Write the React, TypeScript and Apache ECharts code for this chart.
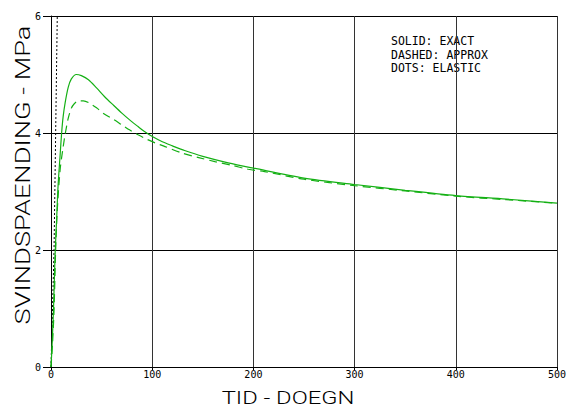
import React, { useEffect, useRef } from "react";
import * as echarts from "echarts";

// Shrinkage stress over time (days) — exact, approximate and elastic solutions
const exactT = [0, 1, 2.5, 4, 5.5, 7, 9, 10.5, 12, 14, 17, 20, 25, 30, 37, 45, 53, 62, 70, 78, 86, 92, 101, 110, 120, 132, 150, 175, 200, 250, 300, 350, 400, 450, 500];
const exactS = [0, 0.35, 1.0, 1.9, 2.5, 3.1, 3.62, 4.0, 4.28, 4.52, 4.78, 4.92, 5.0, 4.98, 4.91, 4.77, 4.62, 4.47, 4.34, 4.22, 4.11, 4.03, 3.93, 3.85, 3.78, 3.7, 3.6, 3.49, 3.4, 3.23, 3.12, 3.02, 2.93, 2.87, 2.8];

const approxT = [0, 1.5, 3, 4.6, 6.2, 9, 12, 14, 17, 20, 23, 27, 32, 37, 45, 53, 62, 70, 78, 86, 95, 103, 111, 129, 146, 162, 178, 195, 211, 250, 300, 350, 400, 450, 500];
const approxS = [0, 0.4, 0.97, 2.0, 2.68, 3.37, 3.76, 3.98, 4.25, 4.42, 4.5, 4.55, 4.55, 4.52, 4.43, 4.32, 4.23, 4.14, 4.05, 3.97, 3.89, 3.83, 3.78, 3.66, 3.58, 3.51, 3.45, 3.38, 3.34, 3.21, 3.1, 3.01, 2.92, 2.86, 2.8];

const elasticT = [0, 1.5, 3, 4.6, 6.2, 6.4];
const elasticS = [0, 1.0, 2.0, 4.0, 6.0, 6.3];

const legendLines = ["SOLID: EXACT", "DASHED: APPROX", "DOTS: ELASTIC"];
const xTitle = "TID - DOEGN";
const yTitle = "SVINDSPAENDING - MPa";

const zip = (xs: number[], ys: number[]) => xs.map((x, i) => [x, ys[i]]);

const GREEN = "#14b014";
const MONO = "'DejaVu Sans Mono', monospace";
const THIN = "Roboto, 'DejaVu Sans', sans-serif";

export default function App() {
  const ref = useRef<HTMLDivElement>(null);

  useEffect(() => {
    if (!ref.current) return;
    const chart = echarts.init(ref.current, null, { renderer: "svg" });
    chart.setOption({
      animation: false,
      backgroundColor: "#fff",
      grid: { left: 51, right: 14, top: 16, bottom: 41 },
      xAxis: {
        type: "value",
        min: 0,
        max: 500,
        interval: 100,
        axisLine: { show: true, onZero: false, lineStyle: { color: "#000", width: 1 } },
        axisTick: { show: true, length: 3, lineStyle: { color: "#000" } },
        axisLabel: { color: "#000", fontFamily: MONO, fontSize: 10, margin: 2, showMinLabel: true, showMaxLabel: true },
        splitLine: { show: true, lineStyle: { color: "#333", width: 1 } },
      },
      yAxis: {
        type: "value",
        min: 0,
        max: 6,
        interval: 2,
        axisLine: { show: true, onZero: false, lineStyle: { color: "#000", width: 1 } },
        axisTick: { show: true, length: 8, lineStyle: { color: "#000" } },
        axisLabel: { color: "#000", fontFamily: MONO, fontSize: 10, margin: 10, showMinLabel: true, showMaxLabel: true },
        splitLine: { show: true, lineStyle: { color: "#000", width: 1 } },
      },
      series: [
        {
          type: "line",
          name: "ELASTIC",
          data: zip(elasticT, elasticS),
          showSymbol: false,
          clip: true,
          lineStyle: { color: "#000", width: 1, type: [2, 2] },
        },
        {
          type: "line",
          name: "EXACT",
          data: zip(exactT, exactS),
          smooth: 0.3,
          showSymbol: false,
          lineStyle: { color: GREEN, width: 1.2 },
        },
        {
          type: "line",
          name: "APPROX",
          data: zip(approxT, approxS),
          smooth: 0.3,
          showSymbol: false,
          lineStyle: { color: GREEN, width: 1.2, type: [8, 5] },
        },
      ],
      graphic: [
        ...legendLines.map((t, i) => ({
          type: "text",
          left: 391,
          top: 35 + i * 13.5,
          style: { text: t, fill: "#000", font: `11.5px ${MONO}` },
        })),
        {
          type: "text",
          x: 288,
          y: 397,
          scaleX: 1.25,
          style: {
            text: xTitle,
            fill: "#000",
            font: `300 19px ${THIN}`,
            textAlign: "center",
            textVerticalAlign: "middle",
          },
        },
        {
          type: "text",
          x: 23,
          y: 175,
          rotation: Math.PI / 2,
          scaleX: 1.36,
          style: {
            text: yTitle,
            fill: "#000",
            font: `300 20px ${THIN}`,
            textAlign: "center",
            textVerticalAlign: "middle",
          },
        },
      ],
    });
    return () => chart.dispose();
  }, []);

  return <div ref={ref} style={{ width: 571, height: 408, position: "absolute", left: 0, top: 0 }} />;
}
